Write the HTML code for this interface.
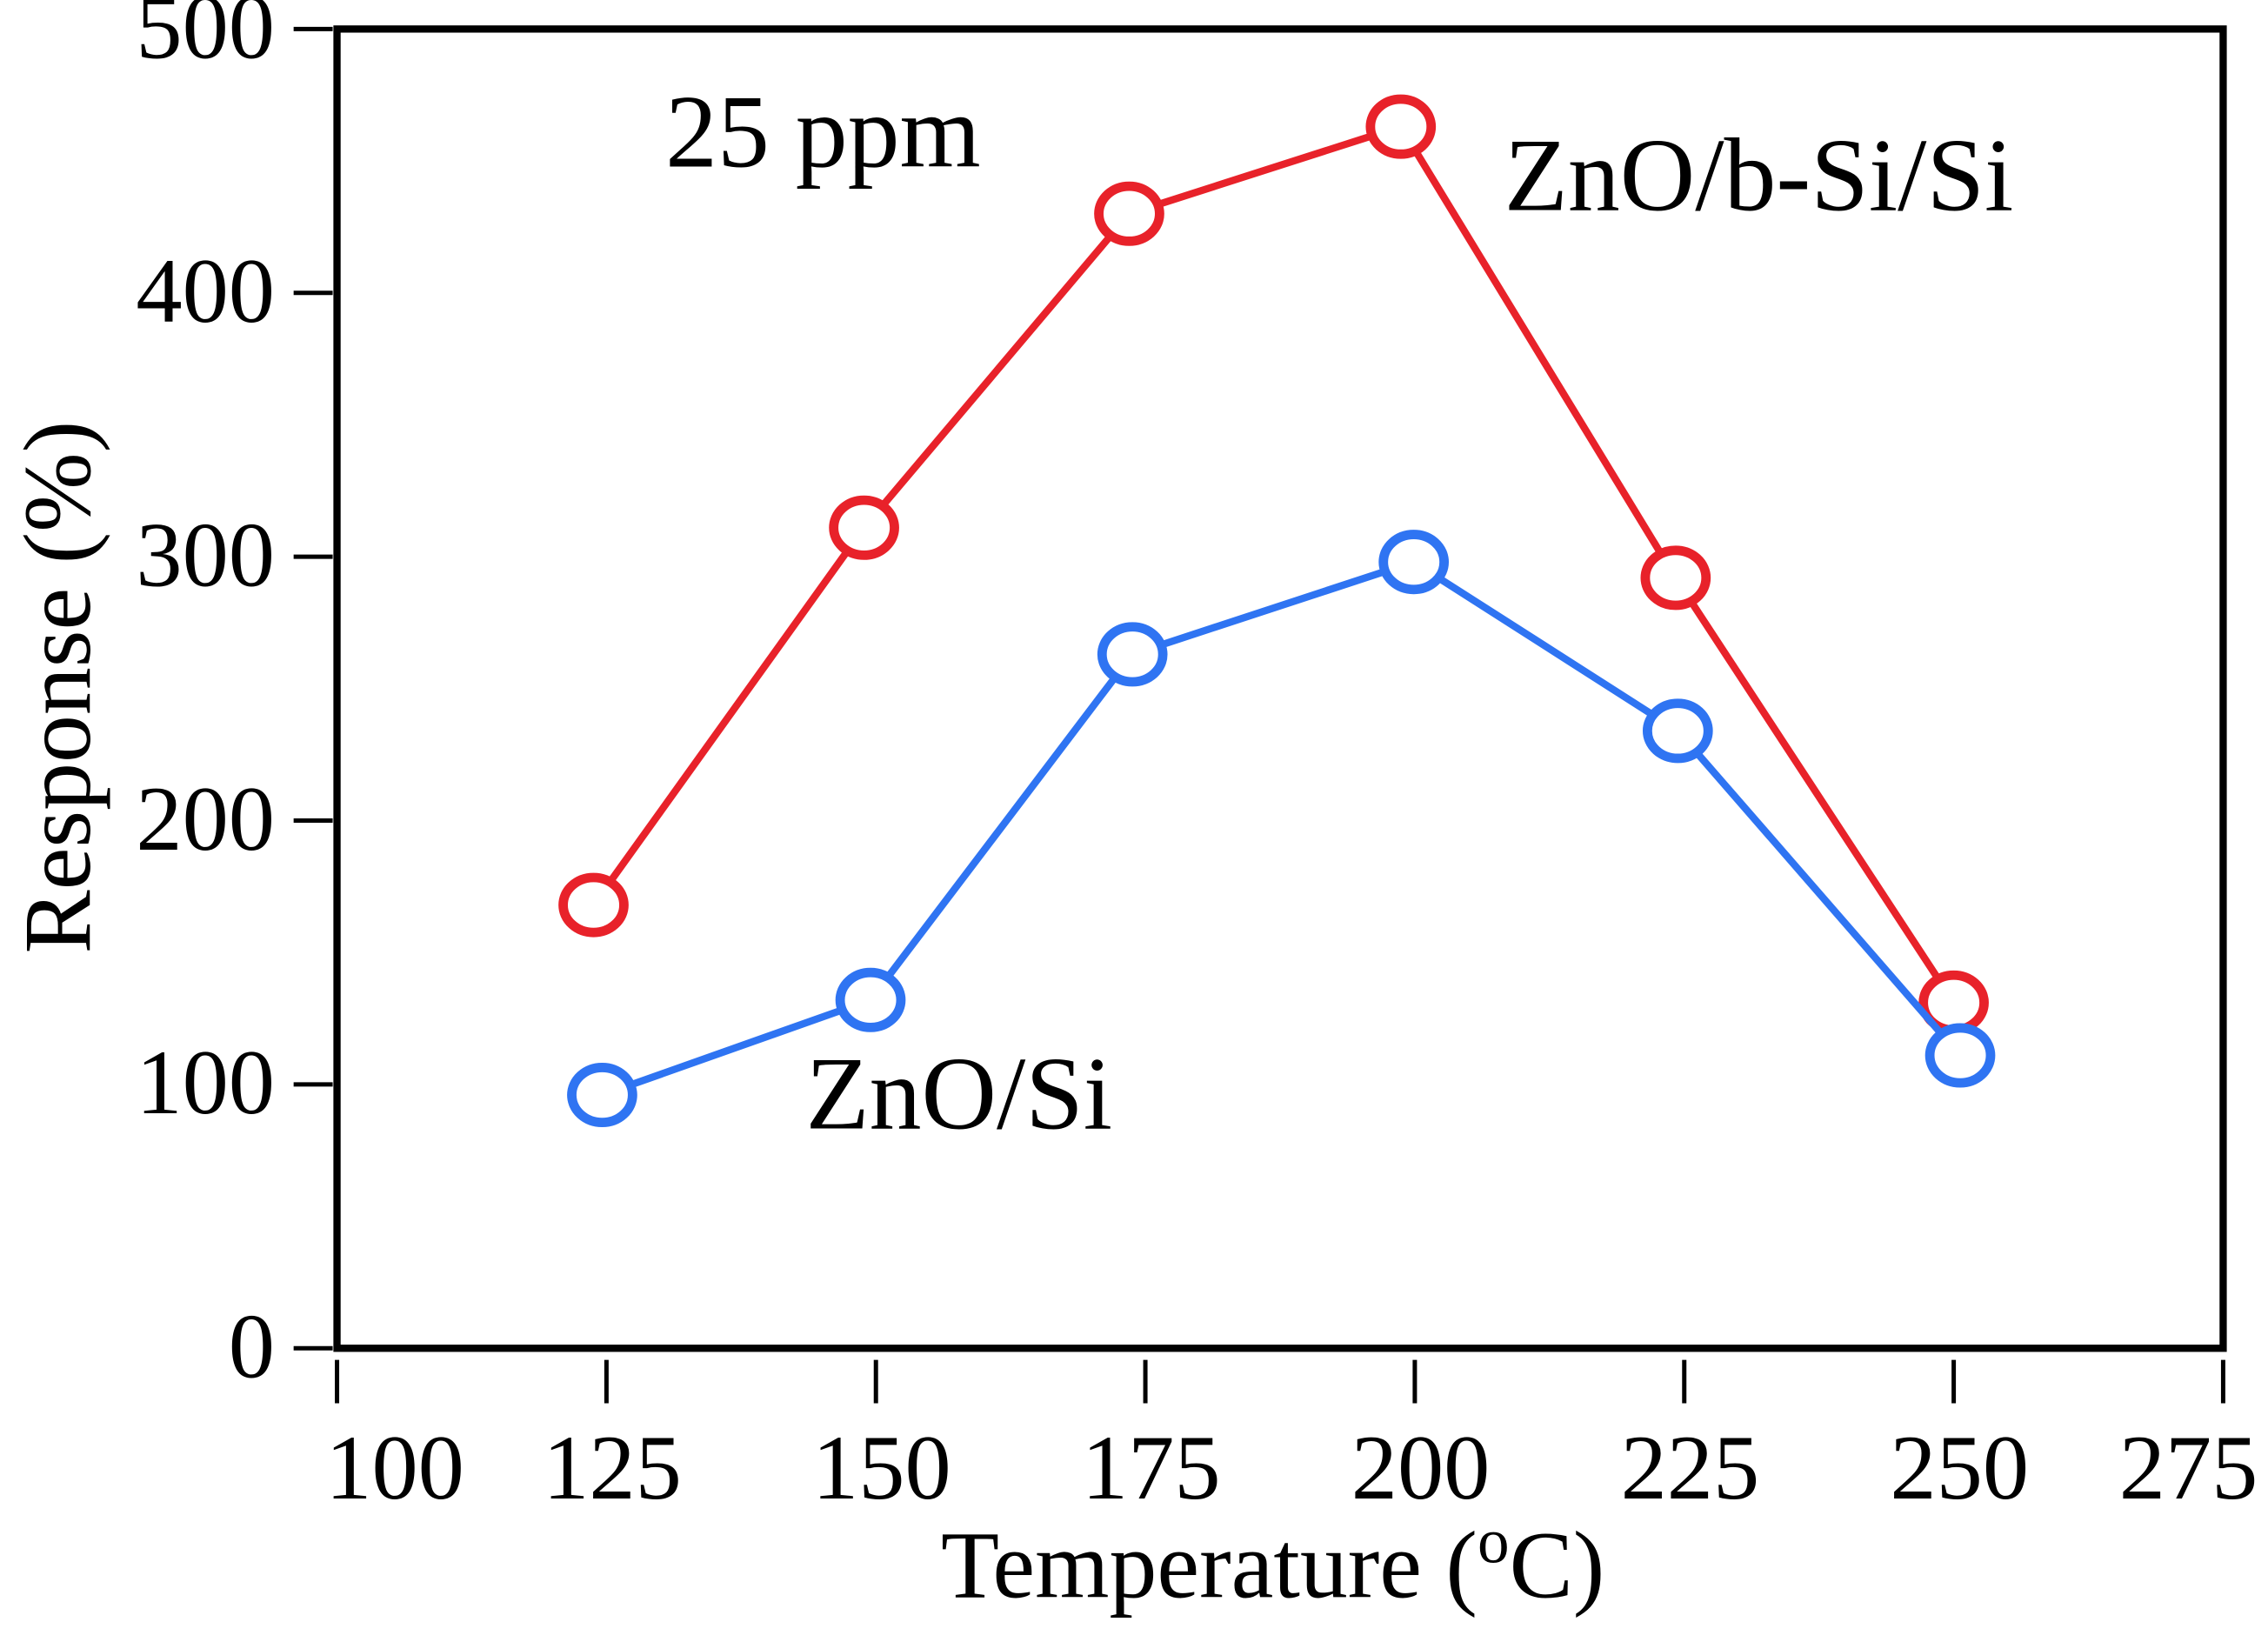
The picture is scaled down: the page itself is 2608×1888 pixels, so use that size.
<!DOCTYPE html>
<html><head><meta charset="utf-8"><style>
html,body{margin:0;padding:0;background:#fff;}
svg{display:block;font-family:"Liberation Serif",serif;}
</style></head><body>
<svg id="chart" width="2608" height="1888" viewBox="0 0 1568 1135" xmlns="http://www.w3.org/2000/svg">
<rect x="233" y="20" width="1304" height="912" fill="none" stroke="#000" stroke-width="5"/>
<g id="axes"></g>
<g id="series"></g>
<text x="460" y="115" font-size="72">25 ppm</text>
<text x="1040" y="145" font-size="72">ZnO/b-Si/Si</text>
<text x="557" y="780" font-size="72">ZnO/Si</text>
<text x="880" y="1104" font-size="66" text-anchor="middle">Temperature (<tspan font-size="44" dy="-24">o</tspan><tspan dy="24">C)</tspan></text>
<text transform="translate(62,475) rotate(-90)" font-size="66" text-anchor="middle">Response (%)</text>
</svg>
<script>
const xTicks = [100,125,150,175,200,225,250,275];
const yTicks = [0,100,200,300,400,500];
const redX = [123.8,148.9,173.5,198.7,224.2,250];
const redY = [168,311,430,463,292,131];
const blueX = [124.6,149.5,173.8,199.9,224.4,250.6];
const blueY = [96,132,263,298,234,111];

const NS="http://www.w3.org/2000/svg";
function xs(v){return 233+(v-100)/175*1304;}
function ys(v){return 932-v/500*912;}
function mk(tag,attrs,parent){const e=document.createElementNS(NS,tag);for(const k in attrs)e.setAttribute(k,attrs[k]);parent.appendChild(e);return e;}
const axes=document.getElementById('axes');
xTicks.forEach((t,i)=>{
  const l=mk('line',{x1:xs(t),x2:xs(t),y1:940,y2:970,stroke:'#000','stroke-width':3},axes);
  
  
  let anchor='middle', x=xs(t)+4;
  if(i===0){anchor='start'; x=xs(t)-8;}
  if(i===xTicks.length-1){anchor='end'; x=xs(t)+24;}
  const tx=mk('text',{x:x,y:1036,'font-size':64,'text-anchor':anchor},axes);
  tx.textContent=t;
  
  
});
yTicks.forEach(t=>{
  const l=mk('line',{x1:203,x2:230,y1:ys(t),y2:ys(t),stroke:'#000','stroke-width':3},axes);
  
  
  const tx=mk('text',{x:190,y:ys(t)+20,'font-size':64,'text-anchor':'end'},axes);
  tx.textContent=t;
  
  
});
const ser=document.getElementById('series');
function draw(X,Y,color,name){
  const g=mk('g',{},ser);
  
  
  const pts=X.map((x,i)=>xs(x)+','+ys(Y[i])).join(' ');
  const pl=mk('polyline',{points:pts,fill:'none',stroke:color,'stroke-width':5},g);
  
  
  X.forEach((x,i)=>{
    const c=mk('ellipse',{cx:xs(x),cy:ys(Y[i]),rx:21,ry:19,fill:'#fff',stroke:color,'stroke-width':6.5},g);
    
    
  });
}
draw(redX,redY,'#e8222a','series-znobsi');
draw(blueX,blueY,'#2f74f2','series-znosi');
</script>
</body></html>
